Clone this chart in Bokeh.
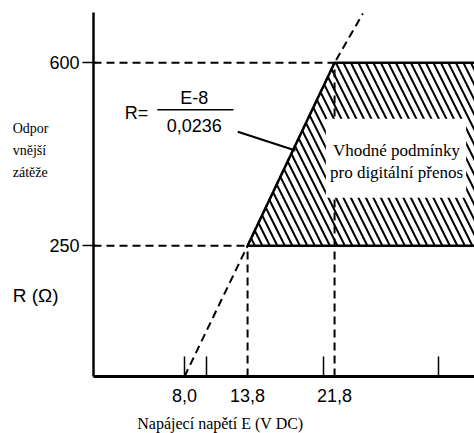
from bokeh.plotting import figure
from bokeh.models import FixedTicker, CustomJSTickFormatter, Label, Range1d
from bokeh.embed import file_html
from bokeh.resources import INLINE

# ---- data ----
E_zero = 8.0            # supply voltage where R = 0 (x-intercept)
E_low = 13.8            # voltage at R = 250
E_high = 21.8           # voltage at R = 600
R_low = 250
R_high = 600
line_E = [8.0, 13.8, 21.8, 24.4]     # R = (E-8)/0.0236 line, read points
line_R = [0, 250, 600, 694]
region_E = [13.8, 21.8, 40.0, 40.0]  # suitable operating region
region_R = [250, 600, 600, 250]
x_label_ticks = [8.0, 13.8, 21.8]
x_minor_ticks = [8.0, 10.0, 20.8, 31.4]
y_ticks = [250, 600]

# ---- layout (axes drawn at fixed locations inside a full-canvas frame) ----
W, H = 474, 433
AX_X, AX_Y = 93, 376          # pixel position of the axes crossing
X0, X1 = -0.37, 34.67         # voltage at y-axis and at right edge
R_TOP = 696                   # resistance at top of y-axis
TOP_PX = 12
sx = (W - AX_X) / (X1 - X0)
sy = (AX_Y - TOP_PX) / R_TOP
x_range = Range1d(X0 - AX_X / sx, X1)
y_range = Range1d(-(H - AX_Y) / sy, R_TOP + TOP_PX / sy)

p = figure(width=W, height=H, output_backend="svg", toolbar_location=None,
           x_range=x_range, y_range=y_range,
           min_border_left=0, min_border_right=0, min_border_top=0,
           min_border_bottom=0)
p.outline_line_color = None
p.xgrid.visible = False
p.ygrid.visible = False
p.background_fill_color = "white"
p.border_fill_color = "white"

# axes
xa = p.xaxis[0]
xa.fixed_location = 0
xa.bounds = (X0, 40.0)
xa.ticker = FixedTicker(ticks=x_label_ticks, minor_ticks=x_minor_ticks)
xa.formatter = CustomJSTickFormatter(code="return tick.toFixed(1).replace('.', ',');")
xa.axis_line_width = 3
xa.axis_line_color = "black"
xa.major_tick_in = 0
xa.major_tick_out = 0
xa.minor_tick_in = 20
xa.minor_tick_out = 0
xa.minor_tick_line_width = 1.5
xa.minor_tick_line_color = "black"
xa.major_label_text_font = "Liberation Sans"
xa.major_label_text_font_size = "18px"
xa.major_label_text_color = "black"
xa.major_label_standoff = 12

ya = p.yaxis[0]
ya.fixed_location = X0
ya.bounds = (0, R_TOP)
ya.ticker = FixedTicker(ticks=y_ticks)
ya.axis_line_width = 2.5
ya.axis_line_color = "black"
ya.major_tick_in = 3
ya.major_tick_out = 11
ya.major_tick_line_width = 1.5
ya.major_tick_line_color = "black"
ya.minor_tick_in = 0
ya.minor_tick_out = 0
ya.major_label_text_font = "Liberation Sans"
ya.major_label_text_font_size = "18px"
ya.major_label_text_color = "black"
ya.major_label_standoff = 3

# hatched region
p.patch(region_E, region_R, fill_color=None, line_color=None,
        hatch_pattern="\\", hatch_color="black", hatch_weight=2, hatch_scale=15)

# dashed guide lines
dash = dict(line_color="black", line_width=2, line_dash="8 5")
p.segment(x0=[X0, X0], y0=[R_high, R_low], x1=[E_high, E_low], y1=[R_high, R_low], **dash)
p.segment(x0=[E_low, E_high], y0=[0, 0], x1=[E_low, E_high], y1=[R_low, R_high], **dash)
p.line(line_E, line_R, **dash)

# white box for the region text
p.quad(left=[21.0], right=[33.9], bottom=[342], top=[493],
       fill_color="white", line_color=None)

# region outline
p.line([40.0, E_low, E_high, 40.0], [R_low, R_low, R_high, R_high],
       line_color="black", line_width=2.5)

# formula
p.line([5.5, 12.5], [510, 510], line_color="black", line_width=1.5)
p.line([12.9, 18.2], [468, 432], line_color="black", line_width=2)

def lab(x, y, text, font, size, align="left"):
    p.add_layout(Label(x=x, y=y, text=text, text_font=font, text_font_size=size,
                       text_align=align, text_baseline="middle", text_color="black"))

lab(2.5, 503, "R=", "Liberation Sans", "18px")
lab(8.9, 532, "E-8", "Liberation Sans", "18px", "center")
lab(8.9, 480, "0,0236", "Liberation Sans", "18px", "center")

lab(27.5, 432, "Vhodné podmínky", "Liberation Serif", "17px", "center")
lab(27.5, 390, "pro digitální přenos", "Liberation Serif", "17px", "center")

lab(-7.8, 474, "Odpor", "Liberation Serif", "14px")
lab(-7.8, 432, "vnější", "Liberation Serif", "14px")
lab(-7.8, 390, "zátěže", "Liberation Serif", "14px")
lab(-7.8, 155, "R (Ω)", "Liberation Sans", "19px")

lab(11.3, -90, "Napájecí napětí E (V DC)", "Liberation Serif", "16px", "center")

open("out.html", "w").write(file_html(p, INLINE))
